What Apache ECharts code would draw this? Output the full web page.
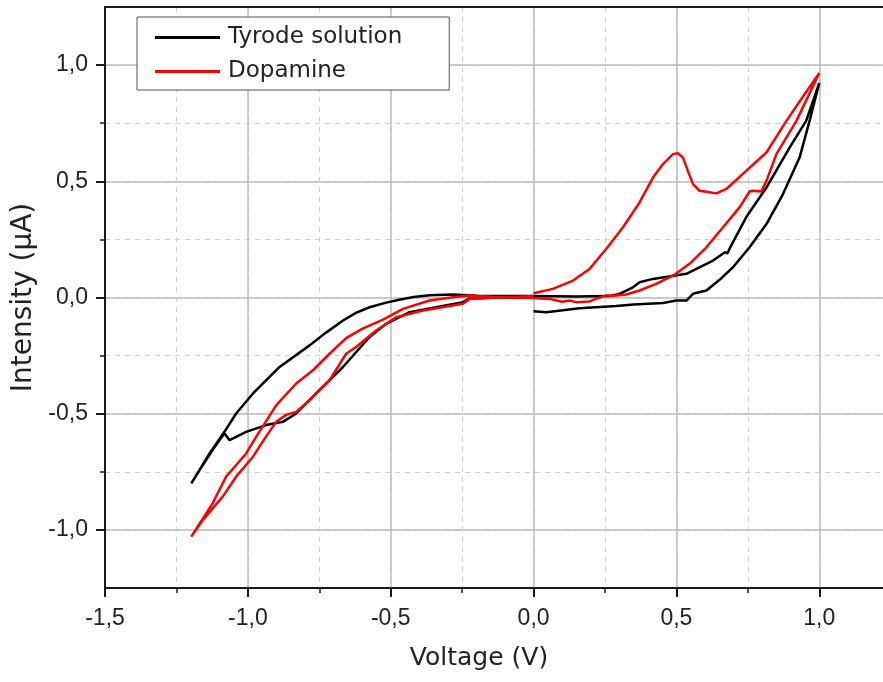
<!DOCTYPE html>
<html>
<head>
<meta charset="utf-8">
<script src="https://cdn.jsdelivr.net/npm/echarts@6/dist/echarts.min.js"></script>
<style>
html,body{margin:0;padding:0;background:#fff;}
#chart{width:883px;height:682px;}
</style>
</head>
<body>
<div id="chart"></div>
<script>
// ---- Data ----
const seriesNames = ['Tyrode solution', 'Dopamine'];

const tyrodeV = [
  0.000, 0.044, 0.161, 0.289, 0.350, 0.453, 0.500, 0.535, 0.558, 0.605, 0.650, 0.698, 0.756, 0.815, 0.873, 0.931, 0.966, 1.000,
  0.954, 0.896, 0.815, 0.744, 0.686, 0.679, 0.670, 0.628, 0.535, 0.418, 0.371, 0.348, 0.301, 0.266, 0.150, 0.000,
  -0.100, -0.200, -0.282, -0.364, -0.420, -0.470, -0.516, -0.574, -0.620, -0.667, -0.725, -0.784, -0.889, -0.982, -1.041, -1.082, -1.134, -1.169, -1.198,
  -1.165, -1.120, -1.082, -1.064, -1.006, -0.936, -0.877, -0.831, -0.761, -0.667, -0.574, -0.516, -0.434, -0.341, -0.247, -0.224, -0.119, 0.000
];
const tyrodeI = [
  -0.059, -0.063, -0.046, -0.037, -0.030, -0.024, -0.013, -0.013, 0.016, 0.030, 0.075, 0.130, 0.216, 0.316, 0.445, 0.602, 0.760, 0.923,
  0.760, 0.645, 0.473, 0.345, 0.210, 0.190, 0.195, 0.159, 0.102, 0.080, 0.066, 0.044, 0.016, 0.006, 0.004, 0.006,
  0.006, 0.008, 0.013, 0.010, 0.002, -0.010, -0.022, -0.042, -0.065, -0.099, -0.150, -0.206, -0.299, -0.413, -0.499, -0.578, -0.671, -0.742, -0.800,
  -0.735, -0.650, -0.584, -0.614, -0.578, -0.549, -0.535, -0.499, -0.413, -0.299, -0.170, -0.113, -0.063, -0.042, -0.020, -0.004, 0.000, 0.000
];

const dopamineV = [
  0.000, 0.068, 0.138, 0.196, 0.254, 0.313, 0.371, 0.418, 0.453, 0.488, 0.505, 0.523, 0.540, 0.558, 0.581, 0.605, 0.640, 0.675, 0.744, 0.815, 0.885, 0.942, 1.000,
  0.920, 0.850, 0.815, 0.797, 0.768, 0.756, 0.721, 0.663, 0.605, 0.546, 0.488, 0.429, 0.371, 0.324, 0.280, 0.254, 0.220, 0.196, 0.149, 0.126, 0.100, 0.056, 0.000, -0.119, -0.224,
  -0.282, -0.364, -0.457, -0.527, -0.600, -0.656, -0.714, -0.772, -0.831, -0.901, -0.971, -1.006, -1.076, -1.123, -1.198,
  -1.157, -1.088, -1.041, -0.982, -0.940, -0.901, -0.866, -0.831, -0.784, -0.714, -0.656, -0.621, -0.551, -0.481, -0.387, -0.247, -0.224, -0.109, 0.000
];
const dopamineI = [
  0.018, 0.037, 0.073, 0.123, 0.209, 0.302, 0.409, 0.516, 0.574, 0.617, 0.621, 0.602, 0.545, 0.488, 0.459, 0.455, 0.448, 0.467, 0.545, 0.624, 0.760, 0.863, 0.966,
  0.760, 0.617, 0.502, 0.456, 0.459, 0.456, 0.388, 0.302, 0.216, 0.145, 0.094, 0.059, 0.030, 0.013, 0.008, 0.009, -0.005, -0.017, -0.020, -0.013, -0.018, -0.006, -0.002, 0.001, 0.009,
  0.001, -0.013, -0.049, -0.095, -0.135, -0.175, -0.242, -0.313, -0.370, -0.464, -0.600, -0.671, -0.771, -0.885, -1.029,
  -0.957, -0.857, -0.771, -0.685, -0.605, -0.535, -0.505, -0.492, -0.442, -0.356, -0.242, -0.213, -0.142, -0.085, -0.056, -0.027, -0.006, 0.001, 0.005
];

const xMajorTicks = [-1.5, -1.0, -0.5, 0.0, 0.5, 1.0];
const xMinorTicks = [-1.25, -1.0, -0.75, -0.5, -0.25, 0.0, 0.25, 0.5, 0.75, 1.0];
const yMajorTicks = [-1.0, -0.5, 0.0, 0.5, 1.0];
const yMinorTicks = [-1.0, -0.75, -0.5, -0.25, 0.0, 0.25, 0.5, 0.75, 1.0];

// ---- Build chart ----
function pairs(xs, ys) { return xs.map((x, i) => [x, ys[i]]); }
function fmt(v) { return v.toFixed(1).replace('.', ','); }

const tickFont = { fontFamily: 'Liberation Sans', fontSize: 23, color: '#222' };
const axisCol = '#1a1a1a';
// the reference's x axis is cut off at the right edge of the picture
const X_MIN = -1.5, X_MAX = 1.223, Y_MIN = -1.25, Y_MAX = 1.25;

const chart = echarts.init(document.getElementById('chart'), null, { renderer: 'canvas' });
chart.setOption({
  backgroundColor: '#fff',
  animation: false,
  grid: { left: 105, top: 7, right: 0, bottom: 94 },
  legend: {
    data: seriesNames,
    orient: 'vertical', left: 137, top: 17,
    padding: [9, 47, 7, 18],
    itemGap: 11, itemWidth: 65, itemHeight: 3, icon: 'rect',
    backgroundColor: '#fff', borderColor: '#555', borderWidth: 1,
    textStyle: { fontFamily: 'DejaVu Sans', fontSize: 23, color: '#222', padding: [0, 0, 0, 3] }
  },
  xAxis: [
    { type: 'value', min: X_MIN, max: X_MAX, position: 'bottom',
      axisLine: { show: true, onZero: false, lineStyle: { color: axisCol, width: 2 } },
      axisTick: { show: true, customValues: xMinorTicks, length: 5, lineStyle: { color: axisCol, width: 1.5 } },
      axisLabel: { show: false },
      splitLine: { show: true, lineStyle: { color: '#cfcfcf', width: 1, type: [5, 5] } } },
    { type: 'value', min: X_MIN, max: X_MAX, position: 'bottom',
      axisLine: { show: false, onZero: false },
      axisTick: { show: true, customValues: xMajorTicks, length: 9, lineStyle: { color: axisCol, width: 2 } },
      axisLabel: { show: true, customValues: xMajorTicks, margin: 19, formatter: fmt, ...tickFont },
      splitLine: { show: true, lineStyle: { color: '#bdbdbd', width: 1.5 } },
      name: 'Voltage (V)', nameLocation: 'middle', nameGap: 58,
      nameTextStyle: { fontFamily: 'DejaVu Sans', fontSize: 25, color: '#222', padding: [0, 30, 0, 0] } },
    { type: 'value', min: X_MIN, max: X_MAX, position: 'top',
      axisLine: { show: true, onZero: false, lineStyle: { color: axisCol, width: 2 } },
      axisTick: { show: false }, axisLabel: { show: false }, splitLine: { show: false } }
  ],
  yAxis: [
    { type: 'value', min: Y_MIN, max: Y_MAX, position: 'left',
      axisLine: { show: true, onZero: false, lineStyle: { color: axisCol, width: 2 } },
      axisTick: { show: true, customValues: yMinorTicks, length: 5, lineStyle: { color: axisCol, width: 1.5 } },
      axisLabel: { show: false },
      splitLine: { show: true, lineStyle: { color: '#cfcfcf', width: 1, type: [5, 5] } } },
    { type: 'value', min: Y_MIN, max: Y_MAX, position: 'left',
      axisLine: { show: false, onZero: false },
      axisTick: { show: true, customValues: yMajorTicks, length: 9, lineStyle: { color: axisCol, width: 2 } },
      axisLabel: { show: true, customValues: yMajorTicks, margin: 17, formatter: fmt, ...tickFont },
      splitLine: { show: true, lineStyle: { color: '#bdbdbd', width: 1.5 } },
      name: 'Intensity (µA)', nameLocation: 'middle', nameGap: 63,
      nameTextStyle: { fontFamily: 'DejaVu Sans', fontSize: 28, color: '#222' } }
  ],
  series: [
    { name: seriesNames[0], type: 'line', xAxisIndex: 0, yAxisIndex: 0,
      data: pairs(tyrodeV, tyrodeI), showSymbol: false, symbol: 'none',
      lineStyle: { color: '#000', width: 2.5 }, itemStyle: { color: '#000' } },
    { name: seriesNames[1], type: 'line', xAxisIndex: 0, yAxisIndex: 0,
      data: pairs(dopamineV, dopamineI), showSymbol: false, symbol: 'none',
      lineStyle: { color: '#ff0000', width: 2.5 }, itemStyle: { color: '#ff0000' } }
  ]
});
</script>
</body>
</html>
